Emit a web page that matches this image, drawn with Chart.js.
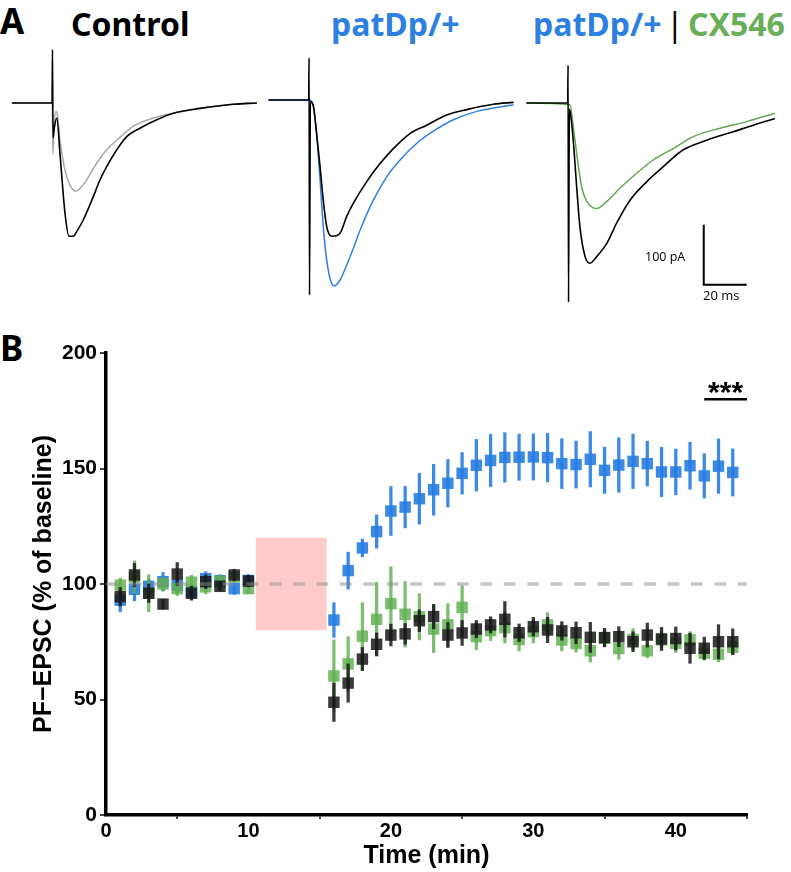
<!DOCTYPE html>
<html>
<head>
<meta charset="utf-8">
<script src="https://cdn.jsdelivr.net/npm/chart.js@4.4.1/dist/chart.umd.min.js"></script>
<style>
  body { margin: 0; width: 791px; height: 872px; position: relative; background: #fff; overflow: hidden; }
  .txt { position: absolute; white-space: nowrap; font-family: "Noto Sans", sans-serif; }
  canvas { position: absolute; }
</style>
</head>
<body>

<!-- panel letters and titles -->
<div class="txt" style="left:0;top:1px;font-size:35px;line-height:40px;font-weight:700;">A</div>
<div class="txt" style="left:0;top:328px;font-size:35px;line-height:40px;font-weight:700;">B</div>
<div class="txt" style="left:71px;top:4px;font-size:32px;line-height:40px;font-weight:700;color:#000;">Control</div>
<div class="txt" style="left:331px;top:4px;font-size:32px;line-height:40px;font-weight:700;color:#2d7fe0;">patDp/+</div>
<div class="txt" style="left:533px;top:4px;font-size:32px;line-height:40px;font-weight:700;color:#2d7fe0;">patDp/+</div>
<div class="txt" style="left:666px;top:4px;font-size:32px;line-height:40px;font-weight:400;color:#000;">|</div>
<div class="txt" style="left:688px;top:4px;font-size:32px;line-height:40px;font-weight:700;color:#6aae5a;">CX546</div>

<canvas id="trCtrl" width="262" height="270" style="left:0;top:40px;"></canvas>
<canvas id="trPat" width="262" height="270" style="left:262px;top:40px;"></canvas>
<canvas id="trCx" width="269" height="270" style="left:522px;top:40px;"></canvas>

<div class="txt" style="left:645px;top:250px;font-size:12.5px;line-height:14px;font-family:'Open Sans',sans-serif;">100 pA</div>
<div class="txt" style="left:703px;top:288px;font-size:13px;line-height:14px;font-family:'Open Sans',sans-serif;">20 ms</div>

<canvas id="ltp" width="791" height="542" style="left:0;top:330px;"></canvas>

<script>
// ---- Panel A: example traces, [time ms, current pA] ----
const ctrlBlack = [[-19,0],[-0.3,0],[-0.1,89],[0.15,-58],[0.8,-40],[1.9,-25],[3.5,-90],[5.7,-183],[7.6,-222],[9.5,-222],
  [11.2,-214],[14.2,-195],[18.9,-156],[22,-128],[25.1,-106],[29.8,-78],[34.4,-56],[40.6,-42],[48.4,-28],[56.1,-17],
  [68.5,-9],[84,-2],[95,0]];
const ctrlGray = [[-19,0],[-0.2,0],[0.1,-85],[0.6,-40],[1.5,-14],[2.3,-22],[3.4,-62],[5.7,-112],[8,-137],[10.8,-147],
  [12.5,-143],[15.8,-128],[20.5,-100],[25.1,-78],[29.8,-62],[37.4,-39],[45.2,-27],[56.1,-17],[68.5,-9],[84,-2],[95,0]];
const patBlack = [[-19,0],[-0.3,0],[-0.1,70],[0.1,-325],[0.5,-3],[1.9,-10],[3.4,-56],[5,-111],[6.5,-167],[8.1,-211],
  [10.9,-227],[14.3,-222],[17.4,-194],[20.5,-172],[26.7,-136],[32.9,-106],[39.1,-81],[46.8,-56],[54.6,-42],[63.9,-25],
  [73.2,-16],[85.6,-7],[95,-4]];
const patBlue = [[-19,0],[0,0],[1.5,-5],[3.4,-56],[5,-133],[6.5,-211],[8.1,-267],[9.6,-297],[11.5,-310],[14.3,-300],
  [17.4,-275],[20.5,-247],[23.6,-217],[29.8,-167],[36,-128],[42.2,-100],[50,-72],[57.7,-52],[67,-33],[77.9,-19],[95,-8]];
const cxBlack = [[-19.5,0],[-0.3,0],[-0.1,63],[0.1,-332],[0.5,-10],[1.1,-20],[2.3,-62],[3.9,-140],[5.4,-206],[7.8,-256],
  [10.1,-267],[13.2,-256],[17.9,-234],[22.5,-200],[28.7,-162],[36.5,-131],[44.2,-106],[53.5,-78],[64.4,-62],[76.7,-48],
  [86,-37],[96.1,-26]];
const cxGreen = [[-19.5,0],[0.8,-3],[2.3,-39],[3.9,-84],[6.2,-140],[8.6,-164],[13.2,-176],[17.9,-164],[24,-142],
  [31.8,-117],[39.5,-95],[48.8,-76],[58.1,-56],[70.6,-42],[83,-31],[96.1,-17]];

// scale bar: 20 ms x 100 pA, corner placed at (ms, pA)
const scaleBarMs = 20;
const scaleBarPA = 100;
const scaleBarCorner = [63, -303];

// ---- Panel B: PF-EPSC time course (% of baseline), mean and SEM ----
const timeMin = [1,2,3,4,5,6,7,8,9,10,16,17,18,19,20,21,22,23,24,25,26,27,28,29,30,31,32,33,34,35,36,37,38,39,40,41,42,43,44];
const patMean = [93,97.7,99,101,99.5,96.6,102.3,101.4,98,101.5,
  84.4,105.8,115.6,122.7,131.6,133.3,136.9,140.8,143.6,147.9,151.4,153.5,154.8,154.9,155,154.7,152.1,151.7,154,149.2,
  151.5,153.1,152.1,148.5,148.5,151.2,146.8,151,148.3];
const patSem = [5,5,3,4,3,3,3,2.5,2.5,2.5,
  7.5,8,3.8,7.2,10.6,9,11,11,10.3,9,11.2,11.3,10.7,10,10,10.5,10.8,10.2,12,10,11.8,11.8,9.7,10.7,9.9,10.2,9.6,11.8,10.2];
const ctrlMean = [94.5,103.9,96,91.3,104.3,96,101,99,103.9,101.3,
  48.8,57.1,67.5,73.9,77.9,78.4,84.1,85.9,77.9,78.8,80.5,82.3,84.7,78.9,81.5,80.1,79.7,78.9,76.9,76.8,
  77.2,75,77.9,76.2,76.4,72.2,72.2,75,75];
const ctrlSem = [4,5,4,2,5,3,3,2,2.5,2.5,
  8.3,8.3,5,4.9,4.7,4.5,4.7,5.3,5.4,5.4,3.7,3.5,7.7,3.8,4,5.5,4,4.7,6.5,4,4.3,4.3,5.2,5,5,6.5,4.8,7.4,5.6];
const cxMean = [99.5,103,96,100,98,100.8,98.8,101,103,98,
  60.2,65.4,77.4,84.7,91.5,86.9,85.8,80.5,82.3,89.9,77.2,79.8,81.1,76,79.4,82.3,75.8,74.3,71.1,76.5,
  72.1,76,71.1,75.8,74.3,75.8,70,69.6,72.6];
const cxSem = [3,7,8,3,3,3,3,3,2,2,
  15.6,11.8,14.5,16,16,14.2,10,10.2,9.2,9.3,5.6,4.3,6.7,5,4.9,5.3,4.7,3.8,4.9,3.5,4.7,4.7,3,3.5,4,3.6,3,3.3,3.2];

const baselinePct = 100;
const inductionStart = 10.5, inductionEnd = 15.5, inductionLow = 80, inductionHigh = 120;
const sigFrom = 42, sigTo = 45, sigLevel = 180, sigText = '***';

const BLUE = 'rgba(40,125,225,0.9)';
const GREEN = 'rgba(95,175,80,0.82)';
const DARK = 'rgba(25,25,25,0.85)';

Chart.defaults.animation = false;
Chart.defaults.font.family = '"Liberation Sans", Arial, sans-serif';

// ---- trace panels ----
const PX_PER_MS = 2.15, PX_PER_PA = 0.6;

function pts(arr) { return arr.map(p => ({ x: p[0], y: p[1] })); }

function traceChart(id, left, stimPx, basePx, sets) {
  const cv = document.getElementById(id);
  const top = 40;
  const xmin = -(stimPx - left) / PX_PER_MS;
  const xmax = xmin + cv.width / PX_PER_MS;
  const ymax = (basePx - top) / PX_PER_PA;
  const ymin = ymax - cv.height / PX_PER_PA;
  return new Chart(cv.getContext('2d'), {
    type: 'line',
    data: { datasets: sets },
    options: {
      responsive: false,
      events: [],
      plugins: { legend: { display: false }, tooltip: { enabled: false } },
      layout: { padding: 0 },
      scales: {
        x: { type: 'linear', display: false, min: xmin, max: xmax },
        y: { type: 'linear', display: false, min: ymin, max: ymax }
      }
    }
  });
}

function trace(arr, color, w) {
  return { data: pts(arr), borderColor: color, borderWidth: w, pointRadius: 0, fill: false,
           cubicInterpolationMode: 'monotone' };
}

traceChart('trCtrl', 0, 52.7, 103, [trace(ctrlBlack, '#000', 1.6), trace(ctrlGray, '#a8a8a8', 1.5)]);
traceChart('trPat', 262, 309.3, 100, [trace(patBlack, '#000', 1.6), trace(patBlue, '#2f7fe0', 1.5)]);
traceChart('trCx', 522, 568.3, 103, [
  trace(cxBlack, '#000', 1.6),
  trace(cxGreen, '#5fa84e', 1.5),
  { data: [
      { x: scaleBarCorner[0], y: scaleBarCorner[1] + scaleBarPA },
      { x: scaleBarCorner[0], y: scaleBarCorner[1] },
      { x: scaleBarCorner[0] + scaleBarMs, y: scaleBarCorner[1] }
    ], borderColor: '#000', borderWidth: 2, pointRadius: 0, tension: 0, fill: false }
]);

// ---- panel B ----
function meanPts(m) { return timeMin.map((t, i) => ({ x: t, y: m[i] })); }
function errBars(m, e) { return timeMin.map((t, i) => ({ x: t, y: [m[i] - e[i], m[i] + e[i]] })); }

function squares(m, color, order) {
  return { type: 'scatter', data: meanPts(m), backgroundColor: color, borderWidth: 0,
           pointStyle: 'rect', pointRadius: 8.1, order: order };
}
function bars(m, e, color, order) {
  return { type: 'bar', data: errBars(m, e), backgroundColor: color, barThickness: 2.6,
           grouped: false, borderWidth: 0, order: order };
}

const starsPlugin = {
  id: 'stars',
  afterDatasetsDraw(chart) {
    const { ctx, scales: { x, y } } = chart;
    ctx.save();
    ctx.font = 'bold 30px "Liberation Sans", Arial, sans-serif';
    ctx.textAlign = 'center';
    ctx.textBaseline = 'alphabetic';
    ctx.fillStyle = '#000';
    ctx.fillText(sigText, x.getPixelForValue((sigFrom + sigTo) / 2), y.getPixelForValue(sigLevel - 1));
    ctx.restore();
  }
};

new Chart(document.getElementById('ltp').getContext('2d'), {
  type: 'scatter',
  data: {
    datasets: [
      { type: 'line', data: [{ x: 0, y: baselinePct }, { x: 45, y: baselinePct }],
        borderColor: 'rgba(140,140,140,0.5)', borderWidth: 3.3, borderDash: [11.7, 11.7],
        pointRadius: 0, fill: false, order: 0 },
      { type: 'line', data: [{ x: sigFrom, y: sigLevel }, { x: sigTo, y: sigLevel }],
        borderColor: '#000', borderWidth: 2.5, pointRadius: 0, fill: false, order: 0 },
      squares(ctrlMean, DARK, 1),
      bars(ctrlMean, ctrlSem, DARK, 2),
      squares(cxMean, GREEN, 3),
      bars(cxMean, cxSem, GREEN, 4),
      squares(patMean, BLUE, 5),
      bars(patMean, patSem, BLUE, 6),
      { type: 'line', data: [{ x: inductionStart, y: inductionHigh }, { x: inductionEnd, y: inductionHigh }],
        borderWidth: 0, borderColor: 'rgba(0,0,0,0)', pointRadius: 0,
        fill: { value: inductionLow }, backgroundColor: '#ffcaca', order: 7 }
    ]
  },
  options: {
    responsive: false,
    events: [],
    plugins: { legend: { display: false }, tooltip: { enabled: false } },
    layout: { padding: { left: 29, top: 23, right: 44, bottom: 0 } },
    scales: {
      x: {
        type: 'linear', min: 0, max: 45, offset: false,
        ticks: { stepSize: 10, includeBounds: false, color: '#000', font: { size: 20, weight: 'bold' },
                 padding: 0, maxRotation: 0 },
        grid: { display: true, drawOnChartArea: false, drawTicks: true, tickLength: 4, color: '#444', lineWidth: 2 },
        border: { display: true, color: '#000', width: 3.5 },
        title: { display: true, text: 'Time (min)', color: '#000', font: { size: 25, weight: 'bold' },
                 padding: { top: 0, bottom: 1 } },
        afterFit(s) { s.height = 57; }
      },
      y: {
        type: 'linear', min: 0, max: 200,
        ticks: { stepSize: 50, color: '#000', font: { size: 21, weight: 'bold' }, padding: 3 },
        grid: { display: true, drawOnChartArea: false, drawTicks: true, tickLength: 6, color: '#444', lineWidth: 2 },
        border: { display: true, color: '#000', width: 3.5 },
        title: { display: true, text: 'PF\u2212EPSC (% of baseline)', color: '#000', font: { size: 25, weight: 'bold' },
                 padding: { top: 0, bottom: 0 } },
        afterFit(s) { s.width = 77; }
      }
    }
  },
  plugins: [starsPlugin]
});
</script>
</body>
</html>
